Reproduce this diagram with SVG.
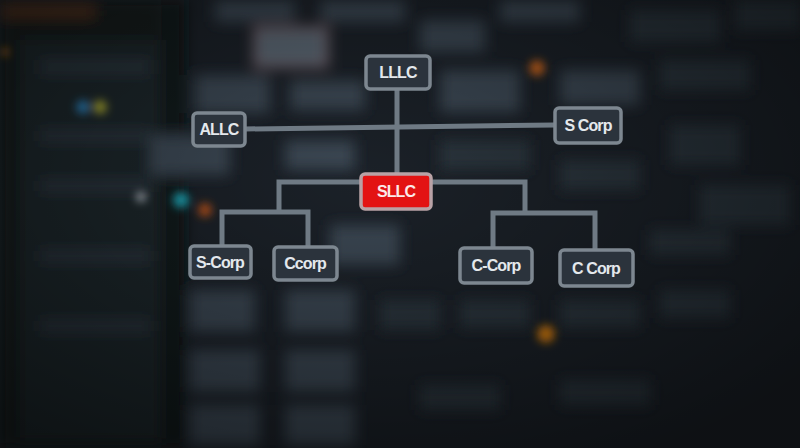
<svg xmlns="http://www.w3.org/2000/svg" width="800" height="448" viewBox="0 0 800 448">
<defs>
<filter id="blur" x="-20%" y="-20%" width="140%" height="140%"><feGaussianBlur stdDeviation="7"/></filter>
<filter id="soft" x="-50%" y="-50%" width="200%" height="200%"><feGaussianBlur stdDeviation="4"/></filter>
<radialGradient id="vig" cx="45%" cy="40%" r="70%">
<stop offset="0" stop-color="#000" stop-opacity="0"/>
<stop offset="1" stop-color="#000" stop-opacity="0.5"/>
</radialGradient>
<style>
.bg{fill:#3a4652}
.bg2{fill:#2c353e}
.line{fill:none;stroke:#6f7a84;stroke-width:5;stroke-linejoin:miter}
.box{fill:#2b333c;stroke:#7d8790;stroke-width:3.5}
.red{fill:#e31313;stroke:#b9a2a6;stroke-width:3.5}
.lbl{font-family:"Liberation Sans",Arial,sans-serif;font-weight:bold;font-size:16px;fill:#e4e8ec;text-anchor:middle;letter-spacing:-0.9px}
</style>
</defs>
<rect width="800" height="448" fill="#1b2128"/>
<g filter="url(#blur)">
<rect x="0" y="0" width="165" height="448" fill="#151a1f"/>
<rect x="20" y="40" width="140" height="400" fill="#1e252b"/>
<rect x="0" y="5" width="95" height="12" fill="#6a3a1c" opacity="0.7"/>
<rect x="40" y="60" width="110" height="14" class="bg2"/>
<rect x="40" y="130" width="110" height="12" class="bg2"/>
<rect x="40" y="180" width="110" height="12" class="bg2"/>
<rect x="40" y="250" width="110" height="12" class="bg2"/>
<rect x="40" y="320" width="110" height="12" class="bg2"/>
<rect x="168" y="0" width="16" height="448" fill="#101418"/>
<rect x="215" y="0" width="80" height="22" class="bg"/>
<rect x="320" y="0" width="85" height="22" class="bg"/>
<rect x="420" y="20" width="65" height="32" class="bg"/>
<rect x="500" y="0" width="80" height="22" class="bg"/>
<rect x="630" y="10" width="90" height="32" class="bg2"/>
<rect x="735" y="0" width="65" height="30" class="bg2"/>
<rect x="255" y="28" width="72" height="38" fill="#5a6672" stroke="#8a6a72" stroke-width="3"/>
<rect x="195" y="75" width="75" height="38" class="bg"/>
<rect x="290" y="80" width="75" height="30" class="bg"/>
<rect x="440" y="70" width="80" height="42" class="bg"/>
<rect x="560" y="70" width="80" height="35" class="bg"/>
<rect x="660" y="60" width="90" height="30" class="bg2"/>
<rect x="150" y="135" width="80" height="40" class="bg"/>
<rect x="285" y="140" width="70" height="30" class="bg"/>
<rect x="440" y="140" width="90" height="30" class="bg2"/>
<rect x="670" y="125" width="70" height="40" class="bg2"/>
<rect x="700" y="185" width="90" height="40" class="bg2"/>
<rect x="560" y="160" width="80" height="30" class="bg2"/>
<rect x="190" y="290" width="65" height="42" class="bg"/>
<rect x="285" y="290" width="70" height="42" class="bg"/>
<rect x="190" y="350" width="70" height="42" class="bg"/>
<rect x="285" y="350" width="70" height="42" class="bg"/>
<rect x="190" y="405" width="70" height="40" class="bg"/>
<rect x="285" y="405" width="70" height="40" class="bg"/>
<rect x="330" y="225" width="70" height="40" class="bg"/>
<rect x="380" y="300" width="60" height="30" class="bg2"/>
<rect x="460" y="300" width="70" height="28" class="bg2"/>
<rect x="560" y="300" width="80" height="28" class="bg2"/>
<rect x="660" y="290" width="70" height="28" class="bg2"/>
<rect x="420" y="385" width="80" height="25" class="bg2"/>
<rect x="560" y="380" width="90" height="25" class="bg2"/>
<rect x="650" y="230" width="80" height="25" class="bg2"/>
</g>
<g filter="url(#soft)">
<circle cx="537" cy="68" r="8" fill="#c0601a"/>
<circle cx="546" cy="334" r="9" fill="#d07a10"/>
<circle cx="205" cy="210" r="7" fill="#b0501a"/>
<circle cx="181" cy="200" r="8" fill="#1aa0b0"/>
<circle cx="141" cy="197" r="5" fill="#b0b8c0"/>
<circle cx="83" cy="107" r="7" fill="#2a7ab0"/>
<circle cx="100" cy="107" r="7" fill="#a0a030"/>
<circle cx="5" cy="52" r="4" fill="#a06018"/>
</g>
<rect width="800" height="448" fill="url(#vig)"/>
<g id="connectors">
<polyline class="line" points="397,89 397,176"/>
<polyline class="line" points="245,129 555,125"/>
<polyline class="line" points="362,182 279,182 279,212"/>
<polyline class="line" points="222,247 222,212 308,212 308,248"/>
<polyline class="line" points="430,182 525,182 525,213"/>
<polyline class="line" points="493,249 493,213 595,213 595,251"/>
</g>
<g id="n-lllc"><rect class="box" x="366" y="56" width="64" height="33" rx="4"/><text class="lbl" x="398" y="78">LLLC</text></g>
<g id="n-allc"><rect class="box" x="193" y="113" width="52" height="33" rx="4"/><text class="lbl" x="219" y="135">ALLC</text></g>
<g id="n-scorp"><rect class="box" x="555" y="108" width="66" height="35" rx="4"/><text class="lbl" x="588" y="131">S Corp</text></g>
<g id="n-sllc"><rect class="red" x="361" y="174" width="70" height="35" rx="4"/><text class="lbl" x="396" y="197" style="fill:#fbe9e9">SLLC</text></g>
<g id="n-s-corp"><rect class="box" x="190" y="246" width="61" height="32" rx="4"/><text class="lbl" x="220" y="268">S-Corp</text></g>
<g id="n-ccorp"><rect class="box" x="274" y="247" width="63" height="33" rx="4"/><text class="lbl" x="305" y="269">Ccorp</text></g>
<g id="n-c-corp"><rect class="box" x="460" y="248" width="72" height="35" rx="4"/><text class="lbl" x="496" y="271">C-Corp</text></g>
<g id="n-c-corp2"><rect class="box" x="560" y="250" width="73" height="36" rx="4"/><text class="lbl" x="596" y="274">C Corp</text></g>
</svg>
